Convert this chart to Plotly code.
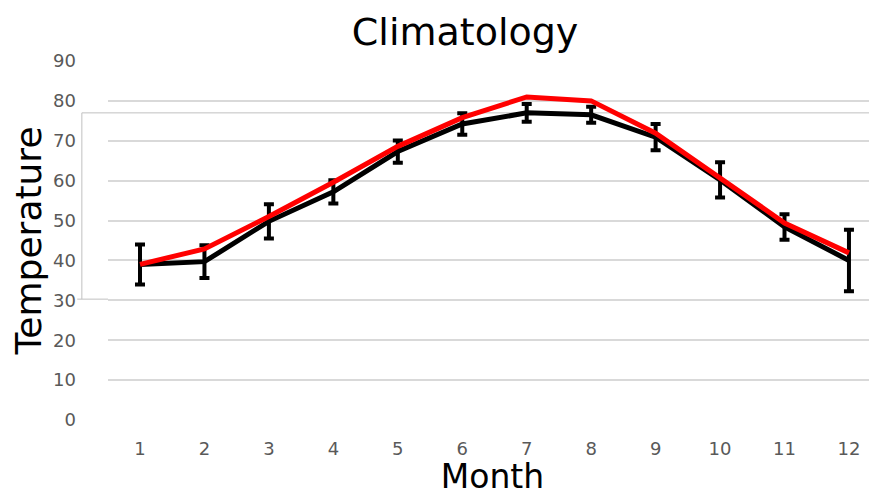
import plotly.graph_objects as go

months = list(range(1, 13))
tick_labels = [str(m) for m in months]
observed = [39.0, 39.7, 49.8, 57.2, 67.3, 74.2, 77.0, 76.5, 70.9, 60.2, 48.4, 40.0]
observed_err = [5.0, 4.1, 4.3, 2.9, 2.8, 2.7, 2.2, 2.0, 3.3, 4.4, 3.2, 7.7]
model = [39.0, 42.9, 51.0, 59.6, 68.6, 75.8, 81.0, 80.0, 71.9, 60.6, 49.4, 41.9]

FONT = "DejaVu Sans"
fig = go.Figure()
fig.add_trace(go.Scatter(
    x=months, y=observed, mode="lines",
    line=dict(color="black", width=5),
    error_y=dict(type="data", array=observed_err, visible=True,
                 color="black", thickness=4, width=5),
    showlegend=False, cliponaxis=False))
fig.add_trace(go.Scatter(
    x=months, y=model, mode="lines",
    line=dict(color="#ff0000", width=5),
    showlegend=False, cliponaxis=False))

# faint inner frame artifact
fig.add_shape(type="line", xref="paper", yref="y", x0=-0.034, x1=1.0, y0=77, y1=77,
              line=dict(color="#c0c0c0", width=1), layer="below")
fig.add_shape(type="line", xref="paper", yref="y", x0=-0.034, x1=-0.034, y0=30.3, y1=77,
              line=dict(color="#c0c0c0", width=1), layer="below")
fig.add_shape(type="line", xref="paper", yref="y", x0=-0.04, x1=0, y0=30.3, y1=30.3,
              line=dict(color="#c0c0c0", width=1), layer="below")

# page body has an 8px margin, so the figure is sized/offset to compensate
fig.update_layout(
    width=869, height=488,
    margin=dict(l=100, r=0, t=53, b=76, autoexpand=False),
    paper_bgcolor="white", plot_bgcolor="white",
    title=dict(text="Climatology", x=0.526, xanchor="center", xref="container",
               y=0.951, yanchor="middle", yref="container",
               font=dict(family=FONT, size=38, color="black"), automargin=False),
    font=dict(family=FONT),
    xaxis=dict(range=[0.5035, 12.435], tickvals=months, ticktext=tick_labels,
               showgrid=False, zeroline=False, showline=False, automargin=False,
               tickfont=dict(size=18, color="#595959"), ticklabelstandoff=16,
               title=dict(text="Month", font=dict(size=33, color="black"), standoff=4)),
    yaxis=dict(range=[0, 90], dtick=10, showgrid=True, gridcolor="#d9d9d9", gridwidth=2,
               zeroline=False, showline=False, automargin=False,
               tickfont=dict(size=18, color="#595959"), ticklabelstandoff=31,
               title=dict(text="Temperature", font=dict(size=36, color="black"), standoff=4)),
)
fig.write_html("out.html")
